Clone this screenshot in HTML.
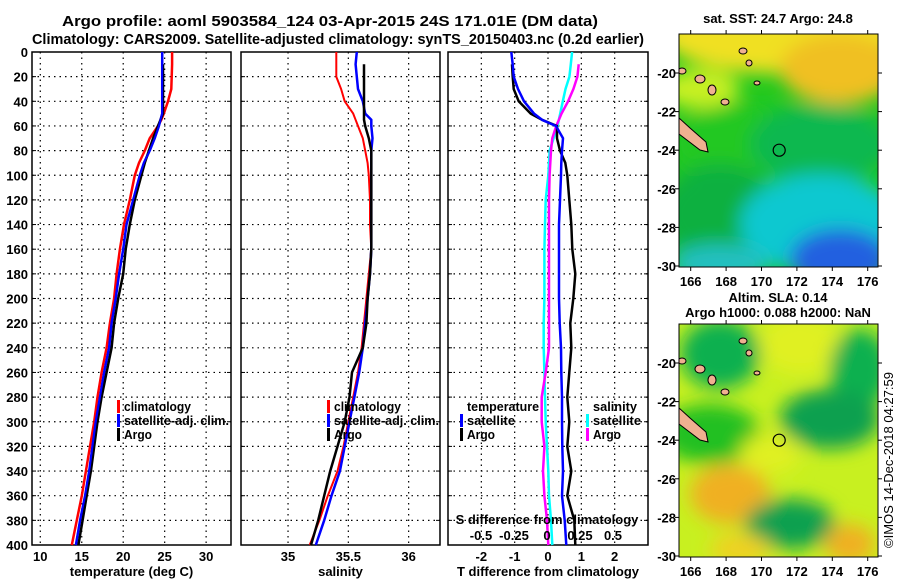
<!DOCTYPE html>
<html><head><meta charset="utf-8"><style>
body{margin:0;background:#fff;}
svg{display:block;font-family:"Liberation Sans",sans-serif;font-weight:bold;}
</style></head><body>
<svg id="c" width="900" height="580" viewBox="0 0 900 580">
<defs>
<filter id="bl" x="-50%" y="-50%" width="200%" height="200%"><feGaussianBlur stdDeviation="9"/></filter>
<clipPath id="m1"><rect x="679" y="34" width="199" height="233"/></clipPath>
<clipPath id="m2"><rect x="679" y="324" width="199" height="233"/></clipPath>
</defs>
<text x="330" y="26" font-size="14.5" text-anchor="middle" textLength="536" lengthAdjust="spacingAndGlyphs">Argo profile: aoml 5903584_124 03-Apr-2015 24S 171.01E (DM data)</text>
<text x="338" y="44" font-size="14.5" text-anchor="middle" textLength="612" lengthAdjust="spacingAndGlyphs">Climatology: CARS2009. Satellite-adjusted climatology: synTS_20150403.nc (0.2d earlier)</text>
<g id="plots"></g>
<g id="maps"></g>
</svg>
<script>
const depths=[0,10,20,30,40,50,55,60,70,80,90,100,120,140,160,180,200,220,240,260,280,300,320,340,360,380,400];
const tClim=[25.9,25.9,25.85,25.8,25.4,24.9,24.6,24.2,23.2,22.6,21.9,21.4,20.8,20.1,19.6,19.2,18.9,18.4,18.0,17.4,16.9,16.5,16.0,15.5,15.0,14.4,13.8];
const tSat=[24.7,24.7,24.7,24.7,24.7,24.7,24.5,24.3,23.8,23.2,22.5,22.0,21.2,20.4,20.0,19.5,19.1,18.6,18.3,17.7,17.2,16.7,16.3,15.9,15.4,14.8,14.3];
const tArgo=[24.8,24.8,24.8,24.8,24.8,24.8,24.5,24.2,23.6,23.1,22.6,22.2,21.4,20.8,20.3,20.0,19.4,18.9,18.6,18.0,17.4,16.9,16.5,16.1,15.6,15.1,14.6];
const sClim=[35.40,35.40,35.40,35.44,35.47,35.54,35.56,35.58,35.62,35.64,35.66,35.67,35.68,35.68,35.69,35.67,35.65,35.63,35.61,35.58,35.54,35.50,35.46,35.41,35.33,35.26,35.18];
const sSat=[35.57,35.56,35.57,35.58,35.62,35.64,35.69,35.69,35.70,35.69,35.69,35.69,35.69,35.69,35.69,35.68,35.66,35.64,35.62,35.59,35.55,35.51,35.47,35.43,35.36,35.30,35.23];
const sArgo=[35.63,35.63,35.63,35.63,35.63,35.63,35.63,35.64,35.67,35.69,35.69,35.69,35.69,35.69,35.69,35.68,35.66,35.65,35.62,35.53,35.51,35.47,35.41,35.35,35.30,35.25,35.19];
const dTsat=[-1.1,-1.06,-1.03,-0.9,-0.72,-0.42,-0.18,0.24,0.45,0.42,0.40,0.39,0.36,0.33,0.33,0.33,0.33,0.35,0.39,0.40,0.42,0.42,0.43,0.45,0.42,0.5,0.55];
const dTargo=[-1.1,-1.08,-1.06,-1.03,-0.88,-0.52,-0.18,0.27,0.27,0.36,0.52,0.58,0.64,0.7,0.73,0.82,0.76,0.67,0.7,0.64,0.58,0.64,0.58,0.7,0.58,0.79,0.82];
const dSsat=[0.19,0.18,0.17,0.14,0.12,0.10,0.09,0.08,0.05,0.02,0.015,0.01,-0.01,-0.015,-0.02,-0.02,-0.02,-0.025,-0.025,-0.02,-0.015,-0.01,0,0.01,0.015,0.03,0.04];
const dSargo=[0.25,0.24,0.23,0.20,0.16,0.11,0.09,0.07,0.04,0.03,0.025,0.02,0.015,0.015,0.015,0.015,0.015,0.015,0.015,-0.01,-0.04,-0.04,-0.02,-0.03,-0.02,0,0.01];
const yTicks=[0,20,40,60,80,100,120,140,160,180,200,220,240,260,280,300,320,340,360,380,400];
const tTicks=[10,15,20,25,30];
const sTicks=[35,35.5,36];
const dTTicks=[-2,-1,0,1,2];
const dSTicks=[-0.5,-0.25,0,0.25,0.5];
const NS='http://www.w3.org/2000/svg';
const Y0=52,Y1=545;
function yScale(d){return Y0+(d/400)*(Y1-Y0);}
function mk(tag,attrs,parent){const e=document.createElementNS(NS,tag);for(const k in attrs)e.setAttribute(k,attrs[k]);parent.appendChild(e);return e;}
const G=document.getElementById('plots');
const panels=[
 {x0:32,x1:231,lo:9,hi:33,ticks:tTicks,label:'temperature (deg C)',name:'temperature-panel',ylabels:true},
 {x0:241,x1:440,lo:34.61,hi:36.26,ticks:sTicks,label:'salinity',name:'salinity-panel'},
 {x0:448,x1:648,lo:-3,hi:3,ticks:dTTicks,label:'T difference from climatology',name:'difference-panel'}
];
function xs(p,v){return p.x0+(v-p.lo)/(p.hi-p.lo)*(p.x1-p.x0);}
panels.forEach(p=>{
 const g=mk('g',{},G);
 
 
 yTicks.forEach(d=>{
  const y=yScale(d);
  if(d>0&&d<400){const l=mk('line',{x1:p.x0,x2:p.x1,y1:y,y2:y,stroke:'#000','stroke-width':1.2,'stroke-dasharray':'1.5,4'},g);
  }
  mk('line',{x1:p.x0,x2:p.x0+4,y1:y,y2:y,stroke:'#000'},g);
  mk('line',{x1:p.x1,x2:p.x1-4,y1:y,y2:y,stroke:'#000'},g);
  if(p.ylabels){const t=mk('text',{x:p.x0-4,y:y+5,'font-size':13,'text-anchor':'end'},g);t.textContent=d;
  }
 });
 p.ticks.forEach(v=>{
  const x=xs(p,v);
  const l=mk('line',{x1:x,x2:x,y1:Y0,y2:Y1,stroke:'#000','stroke-width':1.2,'stroke-dasharray':'1.5,4'},g);
  
  const t=mk('text',{x:x,y:561,'font-size':13,'text-anchor':'middle'},g);t.textContent=v;
  
 });
 const r=mk('rect',{x:p.x0,y:Y0,width:p.x1-p.x0,height:Y1-Y0,fill:'none',stroke:'#000','stroke-width':1.5},g);
 
 const t=mk('text',{x:(p.x0+p.x1)/2,y:576,'font-size':13,'text-anchor':'middle'},g);t.textContent=p.label;
 
});
function line(p,vals,color,w,name,start,scale){
 const pts=[];
 for(let i=(start||0);i<depths.length;i++){const v=vals[i];pts.push((scale?scale(v):xs(p,v)).toFixed(1)+','+yScale(depths[i]).toFixed(1));}
 const e=mk('polyline',{points:pts.join(' '),fill:'none',stroke:color,'stroke-width':w,'stroke-linejoin':'round'},G);
 
 
}
const P=panels;
line(P[0],tClim,'#f00',2.5,'temperature-climatology-line');
line(P[0],tSat,'#00f',2.5,'temperature-satellite-line');
line(P[0],tArgo,'#000',2.5,'temperature-argo-line',1);
line(P[0],tSat,'#00f',2,'temperature-satellite-line-top');
line(P[1],sClim,'#f00',2,'salinity-climatology-line');
line(P[1],sSat,'#00f',2.5,'salinity-satellite-line');
line(P[1],sArgo,'#000',2.5,'salinity-argo-line',1);
const sScale=v=>547+v*132;
line(P[2],dSsat,'#0ff',2.5,'s-diff-satellite-line',0,sScale);
line(P[2],dSargo,'#f0f',2.5,'s-diff-argo-line',1,sScale);
line(P[2],dTargo,'#000',2.5,'t-diff-argo-line',1);
line(P[2],dTsat,'#00f',2.5,'t-diff-satellite-line');
(function(){
 const t=mk('text',{x:547,y:524,'font-size':13,'text-anchor':'middle'},G);t.textContent='S difference from climatology';
 
 dSTicks.forEach(v=>{const e=mk('text',{x:sScale(v),y:540,'font-size':13,'text-anchor':'middle'},G);e.textContent=v;
 });
})();
function legend(x,y,items,name){
 const g=mk('g',{},G);
 
 
 items.forEach((it,i)=>{
  const yy=y+i*14;
  if(it[1])mk('rect',{x:x,y:yy-10,width:3,height:13,fill:it[1]},g);
  const t=mk('text',{x:x+7,y:yy+1,'font-size':13,textLength:it[2],lengthAdjust:'spacingAndGlyphs'},g);t.textContent=it[0];
 });
}
legend(117,410,[['climatology','#f00',67],['satellite-adj. clim.','#00f',105],['Argo','#000',28]],'temperature-legend');
legend(327,410,[['climatology','#f00',67],['satellite-adj. clim.','#00f',105],['Argo','#000',28]],'salinity-legend');
legend(460,410,[['temperature',null,72],['satellite','#00f',48],['Argo','#000',28]],'t-diff-legend');
legend(586,410,[['salinity',null,44],['satellite','#0ff',48],['Argo','#f0f',28]],'s-diff-legend');

const M=document.getElementById('maps');
const lonTicks=[166,168,170,172,174,176];
const latTicks=[-20,-22,-24,-26,-28,-30];
function lonX(l){return 690.7+(l-166)*17.7;}
function drawMap(y0,clip,name,blobs,base,title,titleY){
 const g=mk('g',{},M);
 
 
 const latY=l=>y0+39+(-20-l)*19.3;
 const cg=mk('g',{'clip-path':'url(#'+clip+')'},g);
 mk('rect',{x:679,y:y0,width:199,height:233,fill:base},cg);
 const bg=mk('g',{filter:'url(#bl)'},cg);
 blobs.forEach(b=>mk('ellipse',{cx:b[0],cy:y0+b[1],rx:b[2],ry:b[3],fill:b[4]},bg));
 mk('polygon',{points:`679,${y0+84} 690,${y0+94} 706,${y0+108} 708,${y0+118} 700,${y0+116} 679,${y0+100}`,fill:'#f0b090',stroke:'#000','stroke-width':1},cg);
 [[743,y0+17,4,3],[749,y0+29,3,3],[682,y0+37,4,3],[700,y0+45,5,4],[712,y0+56,4,5],[725,y0+68,4,3],[757,y0+49,3,2]].forEach(s=>mk('ellipse',{cx:s[0],cy:s[1],rx:s[2],ry:s[3],fill:'#f0b090',stroke:'#000','stroke-width':1},cg));
 const c=mk('circle',{cx:lonX(171),cy:latY(-24),r:6,fill:'none',stroke:'#000','stroke-width':1.2},g);
 
 mk('rect',{x:679,y:y0,width:199,height:233,fill:'none',stroke:'#000','stroke-width':1},g);
 lonTicks.forEach(l=>{const x=lonX(l);mk('line',{x1:x,x2:x,y1:y0,y2:y0-4,stroke:'#000'},g);mk('line',{x1:x,x2:x,y1:y0+233,y2:y0+237,stroke:'#000'},g);
  const t=mk('text',{x:x,y:y0+252,'font-size':13,'text-anchor':'middle'},g);t.textContent=l;});
 latTicks.forEach(l=>{const y=latY(l);mk('line',{x1:675,x2:679,y1:y,y2:y,stroke:'#000'},g);mk('line',{x1:878,x2:882,y1:y,y2:y,stroke:'#000'},g);
  const t=mk('text',{x:676,y:y+5,'font-size':13,'text-anchor':'end'},g);t.textContent=l;});
 title.forEach((s,i)=>{const t=mk('text',{x:778,y:titleY-(title.length-1-i)*15,'font-size':13,'text-anchor':'middle'},g);t.textContent=s;});
}
drawMap(34,'m1','sst-map',[
 [780,0,120,40,'#f0e020'],[840,35,60,35,'#f0c020'],[700,55,40,20,'#c8f020'],[740,110,70,40,'#20c820'],
 [820,110,70,40,'#10b850'],[720,180,60,50,'#10b040'],[820,190,80,50,'#10c8d0'],[840,225,50,30,'#2060e0'],[720,230,50,20,'#20c0c0']
],'#20c820',['sat. SST: 24.7 Argo: 24.8'],23);
drawMap(324,'m2','sla-map',[
 [720,30,40,35,'#10b050'],[800,20,40,30,'#e0f020'],[860,45,30,40,'#10b050'],[710,110,50,30,'#20c020'],
 [830,95,50,30,'#10a050'],[730,170,40,30,'#f0b020'],[790,200,45,25,'#10a050'],[850,220,25,20,'#f0b020'],
 [770,130,30,20,'#e0f020'],[740,225,30,15,'#f0d020']
],'#c8f020',['Altim. SLA: 0.14','Argo h1000: 0.088 h2000: NaN'],317);
const cp=mk('text',{x:0,y:0,'font-size':13,'font-weight':'normal',textLength:176,lengthAdjust:'spacingAndGlyphs',transform:'translate(893,548) rotate(-90)'},M);
cp.textContent='©IMOS 14-Dec-2018 04:27:59';


</script>
</body></html>
